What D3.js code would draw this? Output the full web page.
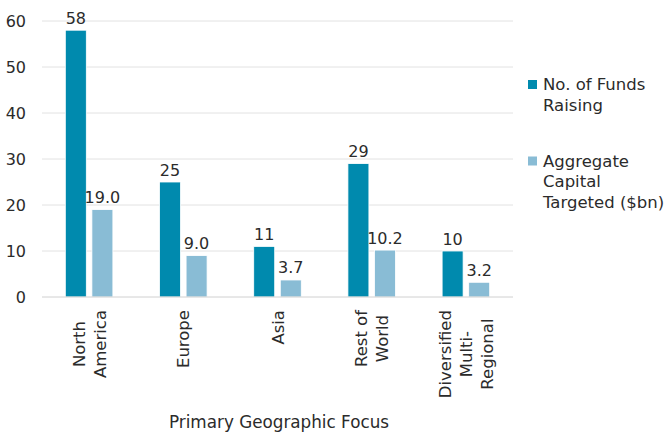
<!DOCTYPE html>
<html>
<head>
<meta charset="utf-8">
<script src="https://cdn.jsdelivr.net/npm/d3@7"></script>
<style>
  body { margin: 0; background: #fff; }
  text { font-family: "DejaVu Sans", sans-serif; fill: #2b2b2b; }
</style>
</head>
<body>
<svg id="chart" width="668" height="434"></svg>
<script>
// data
var categories = ["North America", "Europe", "Asia", "Rest of World", "Diversified Multi-Regional"];
var categoryLines = [["North", "America"], ["Europe"], ["Asia"], ["Rest of", "World"], ["Diversified", "Multi-", "Regional"]];
var seriesNames = ["No. of Funds Raising", "Aggregate Capital Targeted ($bn)"];
var legendLines = [["No. of Funds", "Raising"], ["Aggregate", "Capital", "Targeted ($bn)"]];
var fundsRaising = [58, 25, 11, 29, 10];
var capitalTargeted = [19.0, 9.0, 3.7, 10.2, 3.2];
var yTicks = [0, 10, 20, 30, 40, 50, 60];
var colors = ["#008aae", "#89bcd5"];

var svg = d3.select("#chart");
var plotLeft = 42, plotRight = 513, plotTop = 21, plotBottom = 297;

var x0 = d3.scaleBand()
  .domain(categories)
  .range([plotLeft, plotRight])
  .paddingInner(0.495)
  .paddingOuter(0.2475);

var x1 = d3.scaleBand()
  .domain([0, 1])
  .range([0, x0.bandwidth()])
  .paddingInner(0.21);

var y = d3.scaleLinear()
  .domain([0, 60])
  .range([plotBottom, plotTop]);

// gridlines
svg.append("g")
  .selectAll("line")
  .data(yTicks.slice(1))
  .enter()
  .append("line")
  .attr("x1", plotLeft).attr("x2", plotRight)
  .attr("y1", function(d) { return y(d); })
  .attr("y2", function(d) { return y(d); })
  .attr("stroke", "#e2e2e2")
  .attr("stroke-width", 1);

// y axis labels
var yAxis = d3.axisLeft(y).tickValues(yTicks).tickSize(0).tickPadding(16);
svg.append("g")
  .attr("transform", "translate(" + plotLeft + ",0)")
  .call(yAxis)
  .call(function(g) { g.select(".domain").remove(); })
  .selectAll("text")
  .style("font-size", "16px")
  .style("font-family", "DejaVu Sans")
  .attr("fill", "#2b2b2b");

// bars
var rows = categories.map(function(c, i) {
  return { cat: c, values: [fundsRaising[i], capitalTargeted[i]] };
});

var groups = svg.append("g")
  .selectAll("g")
  .data(rows)
  .enter()
  .append("g")
  .attr("transform", function(d) { return "translate(" + x0(d.cat) + ",0)"; });

groups.selectAll("rect")
  .data(function(d) { return d.values.map(function(v, k) { return { k: k, v: v }; }); })
  .enter()
  .append("rect")
  .attr("x", function(d) { return x1(d.k); })
  .attr("y", function(d) { return y(d.v); })
  .attr("width", x1.bandwidth())
  .attr("height", function(d) { return y(0) - y(d.v); })
  .attr("fill", function(d) { return colors[d.k]; })
  .attr("stroke", "#ffffff")
  .attr("stroke-width", 0.8);

groups.selectAll("text.val")
  .data(function(d) { return d.values.map(function(v, k) { return { k: k, v: v }; }); })
  .enter()
  .append("text")
  .attr("class", "val")
  .attr("x", function(d) { return x1(d.k) + x1.bandwidth() / 2; })
  .attr("y", function(d) { return y(d.v) - 6.5; })
  .attr("text-anchor", "middle")
  .style("font-size", "16px")
  .text(function(d) { return d.k === 0 ? d3.format("d")(d.v) : d3.format(".1f")(d.v); });

// x axis line
svg.append("line")
  .attr("x1", plotLeft).attr("x2", plotRight)
  .attr("y1", y(0)).attr("y2", y(0))
  .attr("stroke", "#d0d0d0")
  .attr("stroke-width", 1);

// rotated category labels, lines centred on each other
var lineGap = 21, capH = 12, labelTop = 310;
categories.forEach(function(c, i) {
  var lines = categoryLines[i];
  var cx = x0(c) + x0.bandwidth() / 2;
  var firstBase = cx - ((lines.length - 1) * lineGap + capH) / 2 + capH;
  var g = svg.append("g");
  var texts = lines.map(function(t, j) {
    return g.append("text")
      .attr("text-anchor", "middle")
      .style("font-size", "16.5px")
      .text(t);
  });
  var maxW = d3.max(texts, function(t) { return t.node().getComputedTextLength(); });
  texts.forEach(function(t, j) {
    t.attr("transform", "translate(" + (firstBase + j * lineGap) + "," + (labelTop + maxW / 2) + ") rotate(-90)");
  });
});

// axis title
svg.append("text")
  .attr("x", 279)
  .attr("y", 428)
  .attr("text-anchor", "middle")
  .style("font-size", "16.8px")
  .text("Primary Geographic Focus");

// legend
var legendY = [90, 166.5];
seriesNames.forEach(function(name, k) {
  var lg = svg.append("g");
  lg.append("rect")
    .attr("x", 528).attr("y", legendY[k] - 10)
    .attr("width", 9).attr("height", 9)
    .attr("fill", colors[k]);
  legendLines[k].forEach(function(t, j) {
    lg.append("text")
      .attr("x", 543)
      .attr("y", legendY[k] + j * 20.8)
      .style("font-size", "16.5px")
      .text(t);
  });
});
</script>
</body>
</html>
